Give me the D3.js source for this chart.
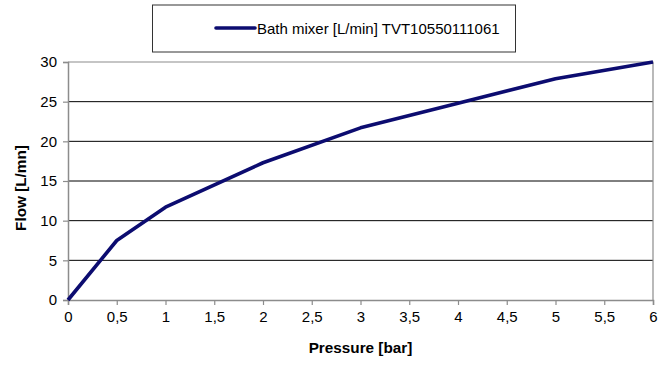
<!DOCTYPE html>
<html>
<head>
<meta charset="utf-8">
<script src="https://cdn.jsdelivr.net/npm/d3@7"></script>
<style>
  body { margin: 0; background: #fff; }
  svg text { font-family: "Liberation Sans", Arial, sans-serif; }
</style>
</head>
<body>
<div id="chart"></div>
<script>
// values
const pressure = [0, 0.5, 1, 2, 3, 4, 5, 6];
const flow = [0, 7.5, 11.7, 17.3, 21.7, 24.8, 27.9, 30];
const xTicks = [0, 0.5, 1, 1.5, 2, 2.5, 3, 3.5, 4, 4.5, 5, 5.5, 6];
const yTicks = [0, 5, 10, 15, 20, 25, 30];
const seriesName = 'Bath mixer [L/min] TVT10550111061';

const width = 670, height = 371;
const margin = {top: 62, right: 17, bottom: 71, left: 68};
const fmt = d => String(d).replace('.', ',');

let svg = d3.select('#chart').append('svg')
  .attr('width', width)
  .attr('height', height);

let x = d3.scaleLinear().domain([0, 6]).range([margin.left, width - margin.right]);
let y = d3.scaleLinear().domain([0, 30]).range([height - margin.bottom, margin.top]);

// horizontal grid lines
svg.append('g')
  .selectAll('line')
  .data(yTicks.filter(d => d > 0 && d < 30))
  .enter().append('line')
    .attr('x1', x(0)).attr('x2', x(6))
    .attr('y1', d => y(d)).attr('y2', d => y(d))
    .style('stroke', '#000')
    .style('stroke-width', 1);

// plot border (top and right)
svg.append('path')
  .attr('d', `M${x(0)},${y(30)}H${x(6)}V${y(0)}`)
  .style('fill', 'none')
  .style('stroke', '#8c8c8c')
  .style('stroke-width', 1.2);

let xAxis = svg.append('g')
  .attr('transform', `translate(0,${y(0)})`)
  .call(d3.axisBottom(x).tickValues(xTicks).tickFormat(fmt).tickSize(5).tickPadding(6));

let yAxis = svg.append('g')
  .attr('transform', `translate(${x(0)},0)`)
  .call(d3.axisLeft(y).tickValues(yTicks).tickSize(5).tickPadding(6));

[xAxis, yAxis].forEach(a => {
  a.select('.domain').style('stroke', '#8c8c8c').style('stroke-width', 1.5);
  a.selectAll('.tick line').style('stroke', '#8c8c8c').style('stroke-width', 1.2);
  a.selectAll('.tick text')
    .style('font-family', '"Liberation Sans", Arial, sans-serif')
    .style('font-size', '15px')
    .style('fill', '#000');
});

// axis titles
svg.append('text')
  .attr('x', x(3))
  .attr('y', 353)
  .attr('text-anchor', 'middle')
  .style('font-size', '15.3px')
  .style('font-weight', 'bold')
  .text('Pressure [bar]');

svg.append('text')
  .attr('transform', `translate(26,188) rotate(-90)`)
  .attr('text-anchor', 'middle')
  .style('font-size', '15.3px')
  .style('font-weight', 'bold')
  .text('Flow [L/mn]');

// the series line
let line = d3.line()
  .x((d, i) => x(pressure[i]))
  .y(d => y(d));

svg.append('path')
  .datum(flow)
  .attr('d', line)
  .style('fill', 'none')
  .style('stroke', '#0c0c70')
  .style('stroke-width', 3.6)
  .style('stroke-linejoin', 'round');

// legend
let legend = svg.append('g');
legend.append('rect')
  .attr('x', 152.5).attr('y', 5)
  .attr('width', 363).attr('height', 47)
  .style('fill', '#fff')
  .style('stroke', '#333')
  .style('stroke-width', 1);
legend.append('line')
  .attr('x1', 216).attr('x2', 255)
  .attr('y1', 28).attr('y2', 28)
  .style('stroke', '#0c0c70')
  .style('stroke-width', 3.6)
  .style('stroke-linecap', 'round');
legend.append('text')
  .attr('x', 257).attr('y', 33.5)
  .style('font-size', '15px')
  .text(seriesName);
</script>
</body>
</html>
